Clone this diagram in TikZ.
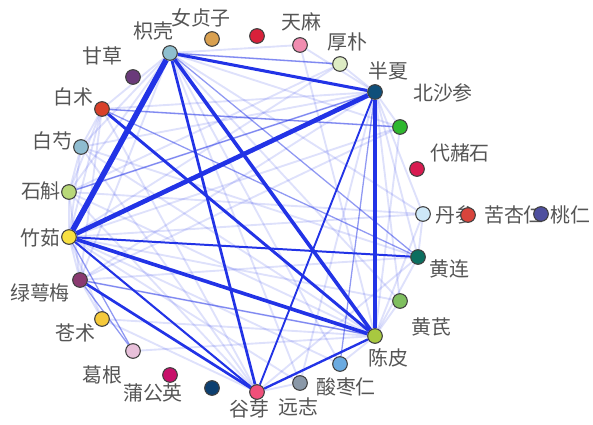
\documentclass[tikz,border=0pt]{standalone}
\usepackage{fontspec}
\newfontfamily\cjk{Noto Sans CJK SC}
\usetikzlibrary{backgrounds}
\definecolor{edgeblue}{HTML}{2233E6}
\definecolor{txtgray}{HTML}{555555}
\definecolor{czq}{HTML}{8FBFCF}
\definecolor{cnzz}{HTML}{D9A050}
\definecolor{chong}{HTML}{D8213A}
\definecolor{ctm}{HTML}{F08CB0}
\definecolor{chp}{HTML}{DDEBC4}
\definecolor{cbx}{HTML}{0F4F7A}
\definecolor{cbss}{HTML}{2EB82E}
\definecolor{cdzs}{HTML}{D81B50}
\definecolor{cds}{HTML}{CDE8F8}
\definecolor{ckxr}{HTML}{D8443C}
\definecolor{ctr}{HTML}{4E4F9E}
\definecolor{chl}{HTML}{0B6E5F}
\definecolor{chq}{HTML}{7FBF5F}
\definecolor{ccp}{HTML}{A8C840}
\definecolor{cszr}{HTML}{6AAAE0}
\definecolor{cyz}{HTML}{8A98A8}
\definecolor{cgy}{HTML}{F0507A}
\definecolor{cpgy}{HTML}{0C3F70}
\definecolor{czi}{HTML}{C8106A}
\definecolor{cgg}{HTML}{E8C0DA}
\definecolor{ccz}{HTML}{F5C93A}
\definecolor{clem}{HTML}{8A3A70}
\definecolor{czr}{HTML}{F8E040}
\definecolor{csh}{HTML}{B8D878}
\definecolor{cbs}{HTML}{8EBCD0}
\definecolor{cbz}{HTML}{D8402A}
\definecolor{cgc}{HTML}{6A3A7A}
\begin{document}
\begin{tikzpicture}[x=0.03cm,y=-0.03cm,
    herb/.style={circle,draw=black!75,line width=0.9pt,minimum size=0.44cm,inner sep=0pt,fill=#1},
    lab/.style={font=\cjk\fontsize{17}{17}\selectfont,text=txtgray,inner sep=0pt},
    link/.style={draw=edgeblue,line width=#1},
    faint/.style={draw=edgeblue,line width=1.6pt,opacity=0.15},
    mid/.style={draw=edgeblue,line width=1.1pt,opacity=0.5}]
    \useasboundingbox (0,0) rectangle (593,425);
    % labels first, so that the dots lie over them
    \node[lab] (l-zq) at (153,31) {枳壳};
    \node[lab] (l-nzz) at (201,18) {女贞子};
    \node[lab] (l-tm) at (301,22) {天麻};
    \node[lab] (l-hp) at (347,42) {厚朴};
    \node[lab] (l-bx) at (388,71) {半夏};
    \node[lab] (l-bss) at (443,93) {北沙参};
    \node[lab] (l-dzs) at (460,153) {代赭石};
    \node[lab] (l-ds) at (455,215) {丹参};
    \node[lab] (l-kxr) at (514,215) {苦杏仁};
    \node[lab] (l-tr) at (570,215) {桃仁};
    \node[lab] (l-hl) at (449,269) {黄连};
    \node[lab] (l-hq) at (431,327) {黄芪};
    \node[lab] (l-cp) at (388,358) {陈皮};
    \node[lab] (l-szr) at (346,387) {酸枣仁};
    \node[lab] (l-yz) at (298,407) {远志};
    \node[lab] (l-gy) at (249,409) {谷芽};
    \node[lab] (l-pgy) at (153,393) {蒲公英};
    \node[lab] (l-gg) at (102,375) {葛根};
    \node[lab] (l-cz) at (75,333) {苍术};
    \node[lab] (l-lem) at (40,293) {绿萼梅};
    \node[lab] (l-zr) at (40,238) {竹茹};
    \node[lab] (l-sh) at (41,191) {石斛};
    \node[lab] (l-bs) at (52,141) {白芍};
    \node[lab] (l-bz) at (73,97) {白术};
    \node[lab] (l-gc) at (102,56) {甘草};
    % dots
    \node[herb=czq] (zq) at (170,53) {};
    \node[herb=cnzz] (nzz) at (212,39) {};
    \node[herb=chong] (hong) at (257,36) {};
    \node[herb=ctm] (tm) at (300,45) {};
    \node[herb=chp] (hp) at (340,64) {};
    \node[herb=cbx] (bx) at (375,92) {};
    \node[herb=cbss] (bss) at (400,127) {};
    \node[herb=cdzs] (dzs) at (417,169) {};
    \node[herb=cds] (ds) at (423,214) {};
    \node[herb=ckxr] (kxr) at (468,215) {};
    \node[herb=ctr] (tr) at (541,214) {};
    \node[herb=chl] (hl) at (418,257) {};
    \node[herb=chq] (hq) at (400,301) {};
    \node[herb=ccp] (cp) at (375,336) {};
    \node[herb=cszr] (szr) at (340,364) {};
    \node[herb=cyz] (yz) at (300,383) {};
    \node[herb=cgy] (gy) at (257,392) {};
    \node[herb=cpgy] (pgy) at (212,388) {};
    \node[herb=czi] (zi) at (170,375) {};
    \node[herb=cgg] (gg) at (133,351) {};
    \node[herb=ccz] (cz) at (102,319) {};
    \node[herb=clem] (lem) at (80,280) {};
    \node[herb=czr] (zr) at (69,237) {};
    \node[herb=csh] (sh) at (69,192) {};
    \node[herb=cbs] (bs) at (81,147) {};
    \node[herb=cbz] (bz) at (102,109) {};
    \node[herb=cgc] (gc) at (133,77) {};
    \begin{pgfonlayer}{background}
        % weak ties
        \foreach \a/\b in {zq/bz,zq/bs,zq/sh,zq/lem,zq/hp,zq/tm,zq/bss,zq/szr,zq/yz,zq/hq,zq/ds,
            bz/bs,bz/sh,bz/zr,bz/bx,bz/bss,bz/gy,bz/lem,bs/zr,bs/bx,bs/cp,bs/gy,bs/hl,bs/sh,
            sh/zr,sh/bx,sh/cp,sh/lem,sh/gy,sh/ds,zr/lem,zr/cz,zr/hp,zr/bss,zr/ds,zr/szr,zr/yz,zr/hq,
            lem/bx,lem/cp,lem/cz,lem/hl,cz/cp,cz/gy,gg/cp,gy/yz,gy/hl,cp/hq,cp/hl,cp/ds,cp/bss,
            cp/szr,bx/hp,bx/bss,bx/ds,bx/hl,bx/hq,bx/yz,bx/tm,hl/ds,tm/cp,hp/sh,bss/lem}
            \draw[faint] (\a) -- (\b);
        \foreach \a/\b in {zq/hl,bz/hl,zr/gg,lem/gg,bz/bss,sh/bx,lem/cp,bx/szr,zq/hp}
            \draw[mid] (\a) -- (\b);
        % strong ties
        \draw[link=1.6pt] (bx) -- (gy);
        \draw[link=1.7pt] (zr) -- (hl);
        \draw[link=1.8pt] (zr) -- (gy);
        \draw[link=2pt] (gy) -- (cp);
        \draw[link=2.3pt] (lem) -- (gy);
        \draw[link=2.3pt] (zq) -- (gy);
        \draw[link=2.5pt] (bz) -- (cp);
        \draw[link=2.6pt] (zq) -- (bx);
        \draw[link=3.1pt] (zq) -- (cp);
        \draw[link=3.1pt] (zr) -- (cp);
        \draw[link=3.4pt] (bx) -- (cp);
        \draw[link=4pt] (zr) -- (bx);
        \draw[link=4.8pt] (zq) -- (zr);
    \end{pgfonlayer}
\end{tikzpicture}
\end{document}
